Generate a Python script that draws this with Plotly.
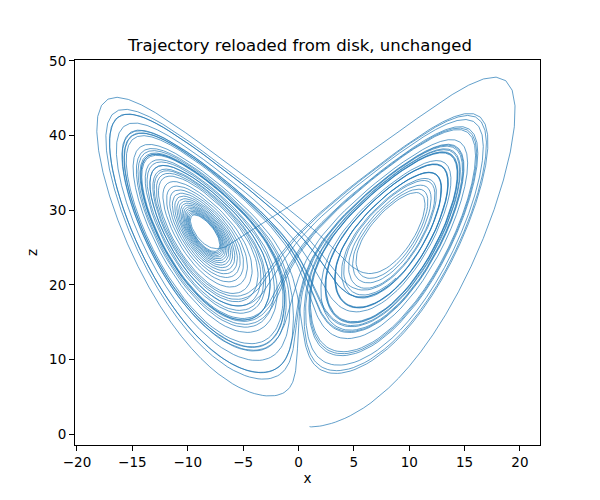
import numpy as np
import plotly.graph_objects as go

# Lorenz system parameters and the stored trajectory settings
sigma = 10.0
rho = 28.0
beta = 8.0 / 3.0
initial_state = [1.0, 1.0, 1.0]
dt = 0.01
n_steps = 5000

x_ticks = [-20, -15, -10, -5, 0, 5, 10, 15, 20]
z_ticks = [0, 10, 20, 30, 40, 50]
x_range = [-20.18, 21.81]
z_range = [-1.47, 50.13]


def deriv(s):
    x, y, z = s
    return np.array([sigma * (y - x), x * (rho - z) - y, x * y - beta * z])


traj = np.empty((n_steps + 1, 3))
traj[0] = initial_state
for i in range(n_steps):
    s = traj[i]
    k1 = deriv(s)
    k2 = deriv(s + 0.5 * dt * k1)
    k3 = deriv(s + 0.5 * dt * k2)
    k4 = deriv(s + dt * k3)
    traj[i + 1] = s + dt / 6.0 * (k1 + 2 * k2 + 2 * k3 + k4)

xs = traj[:, 0]
zs = traj[:, 2]

fig = go.Figure()
fig.add_trace(go.Scatter(x=xs, y=zs, mode="lines",
                         line=dict(color="#1f77b4", width=0.7),
                         showlegend=False, hoverinfo="skip"))

font = dict(family="DejaVu Sans", size=13.5, color="black")
axis_common = dict(showline=True, linecolor="black", linewidth=1, mirror=True,
                   ticks="outside", ticklen=5, tickwidth=1, tickcolor="black",
                   showgrid=False, zeroline=False, automargin=False,
                   tickfont=font)

fig.update_layout(
    width=600, height=500,
    margin=dict(l=67, r=68, t=52, b=63),
    plot_bgcolor="white", paper_bgcolor="white",
    title=dict(text="Trajectory reloaded from disk, unchanged", x=(300 - 8) / 600, xanchor="center",
               y=1 - 37 / 500, yanchor="middle",
               font=dict(family="DejaVu Sans", size=16.5, color="black")),
    xaxis=dict(range=x_range, tickvals=x_ticks, title=dict(text="x", standoff=4, font=font),
               **axis_common),
    yaxis=dict(range=z_range, tickvals=z_ticks, title=dict(text="z", standoff=8, font=font),
               **axis_common),
)

fig.write_html("out.html")
